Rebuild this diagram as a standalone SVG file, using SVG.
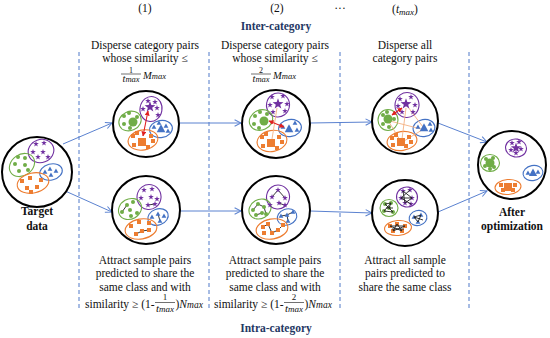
<svg xmlns="http://www.w3.org/2000/svg" width="550" height="338" viewBox="0 0 550 338" font-family="'Liberation Serif','DejaVu Serif','Times New Roman',serif">
<style>
text{font-family:"Liberation Serif","DejaVu Serif","Times New Roman",serif;fill:#111}
.t{font-size:11.5px;text-anchor:middle}
.ts{font-size:11.5px}
.b{font-size:11.5px;font-weight:bold;text-anchor:middle}
.nv{font-size:11.5px;font-weight:bold;text-anchor:middle;fill:#1f3864}
.it{font-style:italic}
.big{stroke:#000;stroke-width:2;fill:#fff}
.dash{stroke:#4f78c8;stroke-width:1;stroke-dasharray:4 3;fill:none}
.arr{stroke:#5b82d0;stroke-width:1;fill:none;marker-end:url(#ah)}
.ep{fill:none;stroke:#7030a0;stroke-width:1.1}
.eg{fill:none;stroke:#70ad47;stroke-width:1.1}
.eb{fill:none;stroke:#4472c4;stroke-width:1.1}
.eo{fill:none;stroke:#ed7d31;stroke-width:1.1}
.p{fill:#7030a0}
.g{fill:#70ad47}
.bl{fill:#4472c4}
.o{fill:#ed7d31}
.red{stroke:#e02020;stroke-width:1.1;marker-start:url(#rh);marker-end:url(#rh)}
.pink{stroke:#f4b183;stroke-width:0.9}
.k{stroke:#222;stroke-width:0.9;fill:none}
.bar{stroke:#111;stroke-width:0.6}
</style>
<defs>
<marker id="ah" viewBox="0 0 10 10" refX="9" refY="5" markerWidth="8" markerHeight="8" markerUnits="userSpaceOnUse" orient="auto"><path d="M1,1 L9,5 L1,9" fill="none" stroke="#5b82d0" stroke-width="1.3"/></marker>
<marker id="rh" viewBox="0 0 10 10" refX="9" refY="5" markerWidth="5" markerHeight="5" markerUnits="userSpaceOnUse" orient="auto-start-reverse"><path d="M0,0 L10,5 L0,10Z" fill="#e02020"/></marker>
<path id="st" d="M0,-3 L0.7,-1 L2.85,-0.93 L1.14,0.37 L1.76,2.43 L0,1.2 L-1.76,2.43 L-1.14,0.37 L-2.85,-0.93 L-0.7,-1Z"/>
<path id="tr" d="M0,-2.6 L2.4,1.8 L-2.4,1.8Z"/>
<rect id="sq" x="-2" y="-2" width="4" height="4"/>
<circle id="dt" r="2"/>
</defs>

<!-- headers -->
<text class="ts" x="145" y="12" text-anchor="middle">(1)</text>
<text class="ts" x="277" y="12" text-anchor="middle">(2)</text>
<text class="ts" x="340" y="12" text-anchor="middle">···</text>
<text class="ts" x="405" y="13" text-anchor="middle">(<tspan class="it">t</tspan><tspan class="it" font-size="9" dy="1.5">max</tspan><tspan dy="-1.5">)</tspan></text>
<text class="nv" x="276" y="30">Inter-category</text>
<text class="nv" x="276" y="332">Intra-category</text>

<!-- dashed separators -->
<line class="dash" x1="79" y1="52" x2="79" y2="311"/>
<line class="dash" x1="209" y1="52" x2="209" y2="311"/>
<line class="dash" x1="340" y1="52" x2="340" y2="311"/>
<line class="dash" x1="469" y1="52" x2="469" y2="311"/>

<!-- top texts -->
<text class="t" x="145" y="49">Disperse category pairs</text>
<text class="t" x="145" y="62">whose similarity ≤</text>
<text x="131" y="72.5" font-size="8" text-anchor="middle">1</text>
<line class="bar" x1="121" y1="74" x2="141" y2="74"/>
<text x="131" y="82" font-size="10.5" text-anchor="middle"><tspan class="it">t</tspan><tspan class="it" font-size="8.5">max</tspan></text>
<text x="143" y="79" font-size="10.5"><tspan class="it">M</tspan><tspan class="it" font-size="8.5">max</tspan></text>

<text class="t" x="275" y="49">Disperse category pairs</text>
<text class="t" x="275" y="62">whose similarity ≤</text>
<text x="261" y="72.5" font-size="8" text-anchor="middle">2</text>
<line class="bar" x1="251" y1="74" x2="271" y2="74"/>
<text x="261" y="82" font-size="10.5" text-anchor="middle"><tspan class="it">t</tspan><tspan class="it" font-size="8.5">max</tspan></text>
<text x="273" y="79" font-size="10.5"><tspan class="it">M</tspan><tspan class="it" font-size="8.5">max</tspan></text>

<text class="t" x="405" y="49">Disperse all</text>
<text class="t" x="405" y="62">category pairs</text>

<!-- bottom texts -->
<text class="t" x="145" y="264">Attract sample pairs</text>
<text class="t" x="145" y="277">predicted to share the</text>
<text class="t" x="145" y="291">same class and with</text>
<text class="ts" x="85" y="308">similarity ≥ (1-</text>
<text x="165" y="300" font-size="9" text-anchor="middle">1</text>
<line class="bar" x1="155" y1="302.5" x2="175" y2="302.5"/>
<text x="165" y="312" font-size="11" text-anchor="middle"><tspan class="it">t</tspan><tspan class="it" font-size="9">max</tspan></text>
<text class="ts" x="175.5" y="308">)<tspan class="it">N</tspan><tspan class="it" font-size="9.5">max</tspan></text>

<text class="t" x="275" y="264">Attract sample pairs</text>
<text class="t" x="275" y="277">predicted to share the</text>
<text class="t" x="275" y="291">same class and with</text>
<text class="ts" x="214" y="308">similarity ≥ (1-</text>
<text x="294" y="300" font-size="9" text-anchor="middle">2</text>
<line class="bar" x1="284" y1="302.5" x2="304" y2="302.5"/>
<text x="294" y="312" font-size="11" text-anchor="middle"><tspan class="it">t</tspan><tspan class="it" font-size="9">max</tspan></text>
<text class="ts" x="304.5" y="308">)<tspan class="it">N</tspan><tspan class="it" font-size="9.5">max</tspan></text>

<text class="t" x="405" y="264">Attract all sample</text>
<text class="t" x="405" y="277">pairs predicted to</text>
<text class="t" x="405" y="291">share the same class</text>

<!-- connectors -->
<g id="connectors">
<line class="arr" x1="63" y1="144" x2="112" y2="123"/>
<line class="arr" x1="63" y1="190" x2="112" y2="212"/>
<line class="arr" x1="180" y1="123" x2="241" y2="123"/>
<line class="arr" x1="310" y1="123" x2="372" y2="122"/>
<line class="arr" x1="180" y1="211" x2="241" y2="211"/>
<line class="arr" x1="310" y1="211" x2="372" y2="213"/>
<line class="arr" x1="438" y1="123" x2="487" y2="142"/>
<line class="arr" x1="438" y1="212" x2="487" y2="191"/>
</g>

<!-- Target data -->
<g id="target">
<circle class="big" cx="37" cy="172" r="35"/>
<ellipse class="ep" cx="41" cy="151" rx="13" ry="11.5" transform="rotate(-20 41 151)"/>
<ellipse class="eg" cx="22" cy="165" rx="13.5" ry="10.5" transform="rotate(-35 22 165)"/>
<ellipse class="eb" cx="51" cy="172" rx="11.5" ry="8" transform="rotate(-15 51 172)"/>
<ellipse class="eo" cx="33" cy="183" rx="16" ry="10" transform="rotate(-12 33 183)"/>
<use href="#st" class="p" x="36" y="144"/><use href="#st" class="p" x="44" y="143"/><use href="#st" class="p" x="33" y="152"/><use href="#st" class="p" x="43" y="152"/><use href="#st" class="p" x="38" y="157"/><use href="#st" class="p" x="48" y="157"/>
<use href="#dt" class="g" x="18" y="157"/><use href="#dt" class="g" x="25" y="158"/><use href="#dt" class="g" x="15" y="164"/><use href="#dt" class="g" x="25" y="165"/><use href="#dt" class="g" x="19" y="171"/><use href="#dt" class="g" x="28" y="170"/>
<use href="#tr" class="bl" x="45" y="172"/><use href="#tr" class="bl" x="50" y="169"/><use href="#tr" class="bl" x="56" y="171"/><use href="#tr" class="bl" x="51" y="175"/>
<use href="#sq" class="o" x="22" y="181"/><use href="#sq" class="o" x="30" y="178"/><use href="#sq" class="o" x="41" y="180"/><use href="#sq" class="o" x="27" y="188"/><use href="#sq" class="o" x="37" y="187"/><use href="#sq" class="o" x="31" y="192"/>
<text class="b" x="37" y="215">Target</text>
<text class="b" x="37" y="230">data</text>
</g>

<!-- top col 1 -->
<g id="inter1">
<circle class="big" cx="146" cy="124" r="33"/>
<ellipse class="ep" cx="151" cy="109" rx="11" ry="12.5" transform="rotate(10 151 109)"/>
<ellipse class="eg" cx="130" cy="121" rx="11.5" ry="9.5" transform="rotate(-25 130 121)"/>
<ellipse class="eb" cx="161" cy="129" rx="11.5" ry="8.5" transform="rotate(-10 161 129)"/>
<ellipse class="eo" cx="143" cy="140" rx="15" ry="10" transform="rotate(-10 143 140)"/>
<use href="#st" class="p" x="148" y="101"/><use href="#st" class="p" x="155" y="102"/><use href="#st" class="p" x="143" y="109"/><use href="#st" class="p" x="157" y="108"/><use href="#st" class="p" x="158" y="115"/><use href="#st" class="p" transform="translate(150 107) scale(1.9)"/>
<use href="#dt" class="g" x="124" y="116"/><use href="#dt" class="g" x="129" y="113"/><use href="#dt" class="g" x="124" y="124"/><use href="#dt" class="g" x="130" y="128"/><use href="#dt" class="g" x="137" y="117"/><circle class="g" cx="133" cy="122" r="4.5"/>
<use href="#tr" class="bl" x="154" y="127"/><use href="#tr" class="bl" x="159" y="123"/><use href="#tr" class="bl" x="166" y="126"/><use href="#tr" class="bl" x="168" y="131"/><use href="#tr" class="bl" transform="translate(161 129) scale(1.8)"/>
<use href="#sq" class="o" x="133" y="136"/><use href="#sq" class="o" x="137" y="133"/><use href="#sq" class="o" x="151" y="136"/><use href="#sq" class="o" x="153" y="141"/><use href="#sq" class="o" x="134" y="145"/><use href="#sq" class="o" x="148" y="147"/><rect class="o" x="138" y="138" width="8" height="8"/>
<line class="red" x1="148" y1="111" x2="143" y2="136"/>
</g>

<!-- top col 2 -->
<g id="inter2">
<circle class="big" cx="276" cy="124" r="34"/>
<ellipse class="ep" cx="278" cy="105" rx="11.5" ry="12" transform="rotate(10 278 105)"/>
<ellipse class="eg" cx="261" cy="120" rx="12" ry="10" transform="rotate(-25 261 120)"/>
<ellipse class="eb" cx="290" cy="128" rx="11.5" ry="8.5" transform="rotate(-10 290 128)"/>
<ellipse class="eo" cx="272" cy="141" rx="15" ry="10.5" transform="rotate(-10 272 141)"/>
<line class="pink" x1="277" y1="108" x2="272" y2="139"/>
<use href="#st" class="p" x="272" y="97"/><use href="#st" class="p" x="283" y="96"/><use href="#st" class="p" x="270" y="105"/><use href="#st" class="p" x="287" y="104"/><use href="#st" class="p" x="273" y="112"/><use href="#st" class="p" x="285" y="111"/><use href="#st" class="p" transform="translate(278 104) scale(1.9)"/>
<use href="#dt" class="g" x="255" y="116"/><use href="#dt" class="g" x="260" y="112"/><use href="#dt" class="g" x="254" y="124"/><use href="#dt" class="g" x="259" y="128"/><use href="#dt" class="g" x="267" y="114"/><circle class="g" cx="264" cy="121" r="4.5"/>
<use href="#tr" class="bl" x="283" y="127"/><use href="#tr" class="bl" x="295" y="123"/><use href="#tr" class="bl" x="297" y="130"/><use href="#tr" class="bl" transform="translate(289 129) scale(1.8)"/>
<use href="#sq" class="o" x="262" y="137"/><use href="#sq" class="o" x="266" y="134"/><use href="#sq" class="o" x="279" y="137"/><use href="#sq" class="o" x="282" y="142"/><use href="#sq" class="o" x="263" y="146"/><use href="#sq" class="o" x="277" y="148"/><rect class="o" x="267" y="139" width="8" height="8"/>
<line class="red" x1="269" y1="121" x2="284" y2="127"/>
</g>

<!-- top col 3 -->
<g id="inter3">
<circle class="big" cx="405" cy="121" r="33"/>
<ellipse class="ep" cx="407" cy="105" rx="12" ry="12.5" transform="rotate(10 407 105)"/>
<ellipse class="eg" cx="388" cy="120" rx="10" ry="10.5"/>
<ellipse class="eb" cx="424" cy="128" rx="11" ry="8.5" transform="rotate(-10 424 128)"/>
<ellipse class="eo" cx="402" cy="141" rx="15" ry="9.5" transform="rotate(-8 402 141)"/>
<line class="pink" x1="390" y1="121" x2="421" y2="129"/>
<line class="pink" x1="406" y1="108" x2="402" y2="139"/>
<line class="pink" x1="408" y1="107" x2="423" y2="127"/>
<line class="pink" x1="389" y1="122" x2="400" y2="140"/>
<line class="pink" x1="404" y1="141" x2="422" y2="130"/>
<use href="#st" class="p" x="400" y="99"/><use href="#st" class="p" x="411" y="97"/><use href="#st" class="p" x="398" y="106"/><use href="#st" class="p" x="415" y="105"/><use href="#st" class="p" x="402" y="112"/><use href="#st" class="p" x="413" y="112"/><use href="#st" class="p" transform="translate(406 104) scale(1.9)"/>
<use href="#dt" class="g" x="383" y="115"/><use href="#dt" class="g" x="387" y="112"/><use href="#dt" class="g" x="383" y="124"/><use href="#dt" class="g" x="389" y="127"/><use href="#dt" class="g" x="394" y="119"/><circle class="g" cx="388" cy="119" r="4.5"/>
<use href="#tr" class="bl" x="418" y="127"/><use href="#tr" class="bl" x="430" y="124"/><use href="#tr" class="bl" x="431" y="130"/><use href="#tr" class="bl" transform="translate(424 128) scale(1.8)"/>
<use href="#sq" class="o" x="392" y="138"/><use href="#sq" class="o" x="396" y="135"/><use href="#sq" class="o" x="409" y="137"/><use href="#sq" class="o" x="411" y="142"/><use href="#sq" class="o" x="393" y="145"/><use href="#sq" class="o" x="406" y="146"/><rect class="o" x="397" y="138" width="8" height="8"/>
<line class="red" x1="392" y1="115" x2="402" y2="108"/>
</g>

<!-- after optimization -->
<g id="after">
<circle class="big" cx="512" cy="165" r="34"/>
<ellipse class="ep" cx="516" cy="148" rx="10.5" ry="9" transform="rotate(10 516 148)"/>
<ellipse class="eg" cx="490" cy="163" rx="9.5" ry="8.5"/>
<ellipse class="eb" cx="533" cy="173" rx="10" ry="7.5" transform="rotate(-10 533 173)"/>
<ellipse class="eo" cx="508" cy="187" rx="13" ry="7.5" transform="rotate(-5 508 187)"/>
<use href="#st" class="p" x="512" y="143"/><use href="#st" class="p" x="519" y="142"/><use href="#st" class="p" x="511" y="150"/><use href="#st" class="p" x="521" y="149"/><use href="#st" class="p" x="516" y="153"/><use href="#st" class="p" transform="translate(516 148) scale(1.8)"/>
<use href="#dt" class="g" x="486" y="159"/><use href="#dt" class="g" x="493" y="158"/><use href="#dt" class="g" x="485" y="166"/><use href="#dt" class="g" x="494" y="167"/><use href="#dt" class="g" x="490" y="169"/><circle class="g" cx="490" cy="163" r="4.5"/>
<use href="#tr" class="bl" x="528" y="173"/><use href="#tr" class="bl" x="538" y="172"/><use href="#tr" class="bl" transform="translate(533 173) scale(1.7)"/>
<use href="#sq" class="o" x="501" y="185"/><use href="#sq" class="o" x="515" y="185"/><use href="#sq" class="o" x="503" y="190"/><use href="#sq" class="o" x="513" y="190"/><rect class="o" x="504" y="183" width="8" height="8"/>
<text class="b" x="512" y="216">After</text>
<text class="b" x="512" y="230">optimization</text>
</g>

<!-- bottom col 1 -->
<g id="intra1">
<circle class="big" cx="146" cy="210" r="34"/>
<ellipse class="ep" cx="149" cy="197" rx="12" ry="12.5" transform="rotate(10 149 197)"/>
<ellipse class="eg" cx="130" cy="209" rx="12" ry="10" transform="rotate(-30 130 209)"/>
<ellipse class="eb" cx="158" cy="217" rx="10.5" ry="8" transform="rotate(-20 158 217)"/>
<ellipse class="eo" cx="141" cy="229" rx="16" ry="10" transform="rotate(-10 141 229)"/>
<line class="k" x1="148" y1="205" x2="155" y2="204"/>
<line class="k" x1="122" y1="212" x2="127" y2="205"/>
<line class="k" x1="158" y1="214" x2="160" y2="221"/>
<polyline class="k" points="136,234 142,231 149,230"/>
<use href="#st" class="p" x="144" y="190"/><use href="#st" class="p" x="152" y="189"/><use href="#st" class="p" x="141" y="198"/><use href="#st" class="p" x="151" y="197"/><use href="#st" class="p" x="157" y="199"/><use href="#st" class="p" x="148" y="205"/><use href="#st" class="p" x="155" y="204"/>
<use href="#dt" class="g" x="127" y="205"/><use href="#dt" class="g" x="133" y="202"/><use href="#dt" class="g" x="122" y="212"/><use href="#dt" class="g" x="130" y="210"/><use href="#dt" class="g" x="131" y="216"/><use href="#dt" class="g" x="137" y="213"/>
<use href="#tr" class="bl" x="152" y="217"/><use href="#tr" class="bl" x="158" y="214"/><use href="#tr" class="bl" x="164" y="216"/><use href="#tr" class="bl" x="160" y="221"/>
<use href="#sq" class="o" x="131" y="226"/><use href="#sq" class="o" x="139" y="222"/><use href="#sq" class="o" x="149" y="223"/><use href="#sq" class="o" x="136" y="234"/><use href="#sq" class="o" x="142" y="231"/><use href="#sq" class="o" x="149" y="230"/>
</g>

<!-- bottom col 2 -->
<g id="intra2">
<circle class="big" cx="276" cy="210" r="34"/>
<ellipse class="ep" cx="278" cy="197" rx="11.5" ry="12" transform="rotate(10 278 197)"/>
<ellipse class="eg" cx="260" cy="209" rx="11.5" ry="9.5" transform="rotate(-30 260 209)"/>
<ellipse class="eb" cx="287" cy="217" rx="10" ry="8" transform="rotate(-20 287 217)"/>
<ellipse class="eo" cx="272" cy="229" rx="16" ry="10" transform="rotate(-10 272 229)"/>
<polyline class="k" points="272,197 278,190 285,198"/>
<polyline class="k" points="279,203 284,205"/>
<polyline class="k" points="253,210 258,204 264,207 266,214"/>
<polyline class="k" points="256,215 262,213"/>
<polyline class="k" points="281,216 287,215 293,212"/>
<polyline class="k" points="287,215 288,221"/>
<polyline class="k" points="263,227 268,224 272,233 278,230 283,225"/>
<use href="#st" class="p" x="278" y="190"/><use href="#st" class="p" x="272" y="197"/><use href="#st" class="p" x="285" y="198"/><use href="#st" class="p" x="279" y="203"/><use href="#st" class="p" x="285" y="205"/><use href="#st" class="p" x="270" y="205"/>
<use href="#dt" class="g" x="258" y="204"/><use href="#dt" class="g" x="253" y="210"/><use href="#dt" class="g" x="264" y="207"/><use href="#dt" class="g" x="266" y="214"/><use href="#dt" class="g" x="256" y="215"/><use href="#dt" class="g" x="262" y="213"/>
<use href="#tr" class="bl" x="281" y="216"/><use href="#tr" class="bl" x="287" y="215"/><use href="#tr" class="bl" x="293" y="212"/><use href="#tr" class="bl" x="288" y="221"/>
<use href="#sq" class="o" x="263" y="227"/><use href="#sq" class="o" x="268" y="224"/><use href="#sq" class="o" x="272" y="233"/><use href="#sq" class="o" x="278" y="230"/><use href="#sq" class="o" x="283" y="225"/><use href="#sq" class="o" x="264" y="233"/>
</g>

<!-- bottom col 3 -->
<g id="intra3">
<circle class="big" cx="405" cy="213" r="33"/>
<ellipse class="ep" cx="407" cy="197" rx="10.5" ry="10" transform="rotate(10 407 197)"/>
<ellipse class="eg" cx="389" cy="208" rx="9" ry="8.5"/>
<ellipse class="eb" cx="418" cy="218" rx="9" ry="7.5" transform="rotate(-15 418 218)"/>
<ellipse class="eo" cx="398" cy="228" rx="13.5" ry="7.5" transform="rotate(-5 398 228)"/>
<use href="#st" class="p" x="403" y="191"/><use href="#st" class="p" x="410" y="190"/><use href="#st" class="p" x="401" y="198"/><use href="#st" class="p" x="412" y="198"/><use href="#st" class="p" x="405" y="203"/><use href="#st" class="p" x="411" y="204"/>
<use href="#dt" class="g" x="385" y="204"/><use href="#dt" class="g" x="391" y="203"/><use href="#dt" class="g" x="384" y="211"/><use href="#dt" class="g" x="393" y="212"/><use href="#dt" class="g" x="389" y="208"/>
<use href="#tr" class="bl" x="414" y="217"/><use href="#tr" class="bl" x="421" y="215"/><use href="#tr" class="bl" x="418" y="222"/>
<use href="#sq" class="o" x="390" y="226"/><use href="#sq" class="o" x="397" y="224"/><use href="#sq" class="o" x="405" y="226"/><use href="#sq" class="o" x="393" y="231"/><use href="#sq" class="o" x="402" y="231"/>
<path class="k" d="M403,191 L412,198 L401,198 L410,190 M405,203 L412,198 M401,198 L411,204 M403,191 L405,203"/>
<path class="k" d="M385,204 L393,212 M391,203 L384,211 M385,204 L391,203 M384,211 L393,212 M389,208 L391,203 M386,208 L393,208"/>
<path class="k" d="M414,217 L421,215 L418,222 Z M414,217 L423,220"/>
<path class="k" d="M390,226 L402,231 M397,224 L393,231 M405,226 L393,231 M390,226 L405,226 M397,224 L402,231 M392,229 L404,229"/>
</g>
</svg>
